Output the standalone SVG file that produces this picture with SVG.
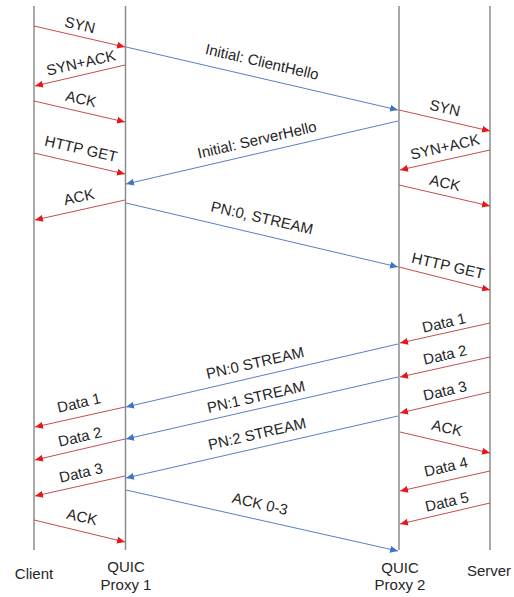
<svg xmlns="http://www.w3.org/2000/svg" width="514" height="597" viewBox="0 0 514 597">
<defs>
<style>
.life{stroke:#8c8c8c;stroke-width:1.5;fill:none}
.r{stroke:#c0504d;stroke-width:1;fill:none;marker-end:url(#ar)}
.b{stroke:#5a7ec4;stroke-width:1;fill:none;marker-end:url(#ab)}
text{font-family:"Liberation Sans",Arial,sans-serif;font-size:15px;fill:#262626}
.lb{text-anchor:middle}
</style>
<marker id="ar" markerUnits="userSpaceOnUse" markerWidth="9" markerHeight="7" refX="8" refY="3.5" orient="auto"><path d="M0,0 L8,3.5 L0,7 z" fill="#e8161b"/></marker>
<marker id="ab" markerUnits="userSpaceOnUse" markerWidth="9" markerHeight="7" refX="8" refY="3.5" orient="auto"><path d="M0,0 L8,3.5 L0,7 z" fill="#4472c4"/></marker>
</defs>
<rect width="514" height="597" fill="#ffffff"/>
<g id="client"><line class="life" x1="34" y1="6" x2="34" y2="550"/><text class="lb" x="34" y="579">Client</text></g>
<g id="proxy1"><line class="life" x1="125.5" y1="6" x2="125.5" y2="550"/><text class="lb" x="126" y="572">QUIC</text><text class="lb" x="126" y="590">Proxy 1</text></g>
<g id="proxy2"><line class="life" x1="399" y1="6" x2="399" y2="550"/><text class="lb" x="400" y="573">QUIC</text><text class="lb" x="400" y="590">Proxy 2</text></g>
<g id="server"><line class="life" x1="490" y1="6" x2="490" y2="550"/><text class="lb" x="489" y="576">Server</text></g>
<g id="connectors">
<path class="r" d="M34,26 L125,47"/>
<path class="r" d="M125,65 L35,86"/>
<path class="r" d="M34,101 L125,122"/>
<path class="r" d="M34,153 L125,174"/>
<path class="r" d="M125,200 L35,220"/>
<path class="r" d="M125,407 L35,427"/>
<path class="r" d="M125,439 L35,460"/>
<path class="r" d="M125,476 L35,496"/>
<path class="r" d="M34,520 L125,542"/>
<path class="r" d="M399,110 L490,131"/>
<path class="r" d="M490,150 L400,170"/>
<path class="r" d="M399,185 L490,206"/>
<path class="r" d="M399,267 L490,290"/>
<path class="r" d="M490,323 L400,343"/>
<path class="r" d="M490,357 L400,377"/>
<path class="r" d="M490,392 L400,413"/>
<path class="r" d="M400,432 L490,453"/>
<path class="r" d="M490,471 L400,491"/>
<path class="r" d="M490,503 L400,524"/>
<path class="b" d="M126,47 L398,110"/>
<path class="b" d="M398,121 L126,184"/>
<path class="b" d="M126,203 L398,267"/>
<path class="b" d="M398,344 L126,407"/>
<path class="b" d="M398,377 L126,439"/>
<path class="b" d="M398,416 L126,478"/>
<path class="b" d="M126,490 L398,551"/>
</g>
<g id="labels">
<text class="lb" transform="translate(80,25) rotate(13)" y="5">SYN</text>
<text class="lb" transform="translate(81,63) rotate(-13)" y="5">SYN+ACK</text>
<text class="lb" transform="translate(81,99) rotate(13)" y="5">ACK</text>
<text class="lb" transform="translate(81,149) rotate(13)" y="5">HTTP GET</text>
<text class="lb" transform="translate(79,197) rotate(-13)" y="5">ACK</text>
<text class="lb" transform="translate(79,403) rotate(-13)" y="5">Data 1</text>
<text class="lb" transform="translate(80,437) rotate(-13)" y="5">Data 2</text>
<text class="lb" transform="translate(81,473) rotate(-13)" y="5">Data 3</text>
<text class="lb" transform="translate(82,517) rotate(13)" y="5">ACK</text>
<text class="lb" transform="translate(445,108) rotate(13)" y="5">SYN</text>
<text class="lb" transform="translate(445,147) rotate(-13)" y="5">SYN+ACK</text>
<text class="lb" transform="translate(445,183) rotate(13)" y="5">ACK</text>
<text class="lb" transform="translate(448,266) rotate(13)" y="5">HTTP GET</text>
<text class="lb" transform="translate(444,323) rotate(-13)" y="5">Data 1</text>
<text class="lb" transform="translate(445,355) rotate(-13)" y="5">Data 2</text>
<text class="lb" transform="translate(445,391) rotate(-13)" y="5">Data 3</text>
<text class="lb" transform="translate(447,428) rotate(13)" y="5">ACK</text>
<text class="lb" transform="translate(446,467) rotate(-13)" y="5">Data 4</text>
<text class="lb" transform="translate(447,502) rotate(-13)" y="5">Data 5</text>
<text class="lb" transform="translate(262,62) rotate(13)" y="5">Initial: ClientHello</text>
<text class="lb" transform="translate(257,140) rotate(-13)" y="5">Initial: ServerHello</text>
<text class="lb" transform="translate(262,218) rotate(13)" y="5">PN:0, STREAM</text>
<text class="lb" transform="translate(255,363) rotate(-13)" y="5">PN:0 STREAM</text>
<text class="lb" transform="translate(256,397) rotate(-13)" y="5">PN:1 STREAM</text>
<text class="lb" transform="translate(257,434) rotate(-13)" y="5">PN:2 STREAM</text>
<text class="lb" transform="translate(260,504) rotate(13)" y="5">ACK 0-3</text>
</g>
</svg>
